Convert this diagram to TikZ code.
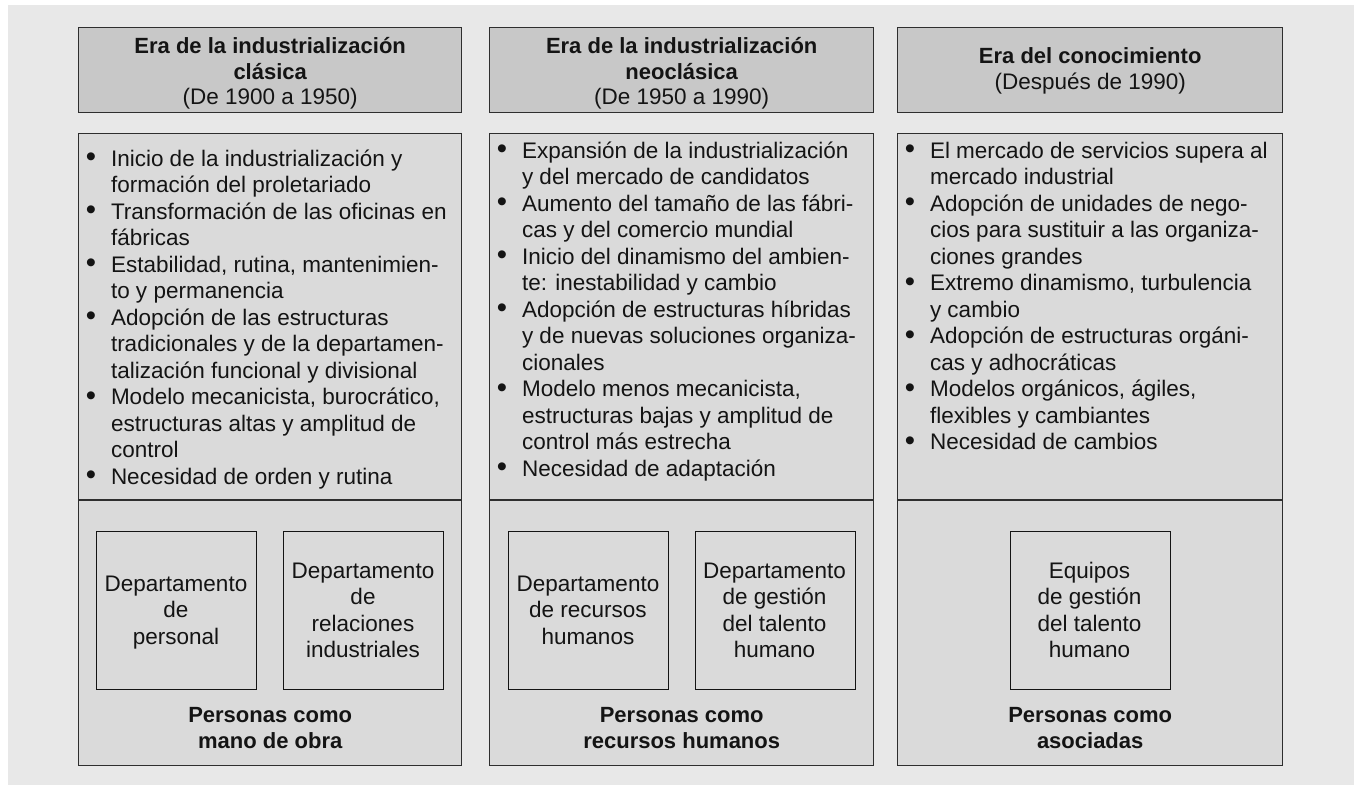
\documentclass[tikz,border=0pt]{standalone}
\usepackage{fontspec}
\setmainfont{Liberation Sans}
\definecolor{bggray}{HTML}{E8E8E8}
\definecolor{boxgray}{HTML}{DADADA}
\definecolor{hdrgray}{HTML}{C8C8C8}
\definecolor{edge}{HTML}{2E2E2E}
\definecolor{ink}{HTML}{141414}
\newcommand\blt{\llap{\raisebox{-0.6pt}{\scalebox{1.3}{\textbullet}}\hspace{15pt}}}
\newcommand\textlines[5]{% x, y0, anchor, prefix, list
  \foreach \t [count=\i from 0] in {#5}
    \node[txt, anchor=#3] (#4\i) at (#1, #2+26.5*\i) {\t};}
\tikzset{
  txt/.style={inner sep=0pt, outer sep=0pt, text=ink, font=\fontsize{22.5}{26.5}\selectfont},
  btxt/.style={txt, font=\fontsize{22}{26.5}\selectfont\bfseries},
  hdrbox/.style={draw=edge, fill=hdrgray, line width=1.4pt, inner sep=0pt, anchor=north west},
  bodybox/.style={draw=edge, fill=boxgray, line width=1.4pt, inner sep=0pt, anchor=north west},
  deptbox/.style={draw=ink, fill=boxgray, line width=1.3pt, inner sep=0pt, anchor=north west,
    minimum width=160pt, minimum height=158pt},
  sep/.style={draw=edge, line width=1.4pt}
}
\begin{document}
\begin{tikzpicture}[x=1pt,y=-1pt]
\useasboundingbox (0,0) rectangle (1354,785);
\fill[bggray] (8,5) rectangle (1354,785);

% ---------- headers ----------
\node[hdrbox, minimum width=383pt, minimum height=85pt] (h1) at (78,27) {};
\node[hdrbox, minimum width=384pt, minimum height=85pt] (h2) at (489,27) {};
\node[hdrbox, minimum width=385pt, minimum height=85pt] (h3) at (897,27) {};

\node[btxt, anchor=base] (h1a) at (h1.center |- 0,53) {Era de la industrialización};
\node[btxt, anchor=base] (h1b) at (h1.center |- 0,79) {clásica};
\node[txt, anchor=base] (h1c) at (h1.center |- 0,104.5) {(De 1900 a 1950)};

\node[btxt, anchor=base] (h2a) at (h2.center |- 0,53) {Era de la industrialización};
\node[btxt, anchor=base] (h2b) at (h2.center |- 0,79) {neoclásica};
\node[txt, anchor=base] (h2c) at (h2.center |- 0,104.5) {(De 1950 a 1990)};

\node[btxt, anchor=base] (h3a) at (h3.center |- 0,63) {Era del conocimiento};
\node[txt, anchor=base] (h3b) at (h3.center |- 0,89) {(Después de 1990)};

% ---------- body boxes ----------
\node[bodybox, minimum width=383pt, minimum height=632pt] (b1) at (78,133) {};
\node[bodybox, minimum width=384pt, minimum height=632pt] (b2) at (489,133) {};
\node[bodybox, minimum width=385pt, minimum height=632pt] (b3) at (897,133) {};

\draw[sep] (b1.west |- 0,500) -- (b1.east |- 0,500);
\draw[sep] (b2.west |- 0,500) -- (b2.east |- 0,500);
\draw[sep] (b3.west |- 0,500) -- (b3.east |- 0,500);

% ---------- bullet lists ----------
\textlines{111}{166}{base west}{ca}{
  {\blt Inicio de la industrialización y},
  {formación del proletariado},
  {\blt Transformación de las oficinas en},
  {fábricas},
  {\blt Estabilidad, rutina, mantenimien-},
  {to y permanencia},
  {\blt Adopción de las estructuras},
  {tradicionales y de la departamen-},
  {talización funcional y divisional},
  {\blt Modelo mecanicista, burocrático,},
  {estructuras altas y amplitud de},
  {control},
  {\blt Necesidad de orden y rutina}}

\textlines{522}{158}{base west}{cb}{
  {\blt Expansión de la industrialización},
  {y del mercado de candidatos},
  {\blt Aumento del tamaño de las fábri-},
  {cas y del comercio mundial},
  {\blt Inicio del dinamismo del ambien-},
  {te: inestabilidad y cambio},
  {\blt Adopción de estructuras híbridas},
  {y de nuevas soluciones organiza-},
  {cionales},
  {\blt Modelo menos mecanicista,},
  {estructuras bajas y amplitud de},
  {control más estrecha},
  {\blt Necesidad de adaptación}}

\textlines{930}{158}{base west}{cc}{
  {\blt El mercado de servicios supera al},
  {mercado industrial},
  {\blt Adopción de unidades de nego-},
  {cios para sustituir a las organiza-},
  {ciones grandes},
  {\blt Extremo dinamismo, turbulencia},
  {y cambio},
  {\blt Adopción de estructuras orgáni-},
  {cas y adhocráticas},
  {\blt Modelos orgánicos, ágiles,},
  {flexibles y cambiantes},
  {\blt Necesidad de cambios}}

% ---------- department boxes ----------
\node[deptbox] (d1) at (96,531) {};
\node[deptbox] (d2) at (283,531) {};
\node[deptbox] (d3) at (508,531) {};
\node[deptbox] (d4) at (695,531) {};
\node[deptbox] (d5) at (1010,531) {};

\textlines{176}{591}{base}{da}{{Departamento},{de},{personal}}
\textlines{363}{578}{base}{db}{{Departamento},{de},{relaciones},{industriales}}
\textlines{588}{591}{base}{dc}{{Departamento},{de recursos},{humanos}}
\textlines{774.5}{578}{base}{dd}{{Departamento},{de gestión},{del talento},{humano}}
\textlines{1089.5}{578}{base}{de}{{Equipos},{de gestión},{del talento},{humano}}

% ---------- bottom labels ----------
\node[btxt, anchor=base] (p1a) at (b1.center |- 0,722) {Personas como};
\node[btxt, anchor=base] (p1b) at (b1.center |- 0,748) {mano de obra};
\node[btxt, anchor=base] (p2a) at (b2.center |- 0,722) {Personas como};
\node[btxt, anchor=base] (p2b) at (b2.center |- 0,748) {recursos humanos};
\node[btxt, anchor=base] (p3a) at (b3.center |- 0,722) {Personas como};
\node[btxt, anchor=base] (p3b) at (b3.center |- 0,748) {asociadas};
\end{tikzpicture}
\end{document}
